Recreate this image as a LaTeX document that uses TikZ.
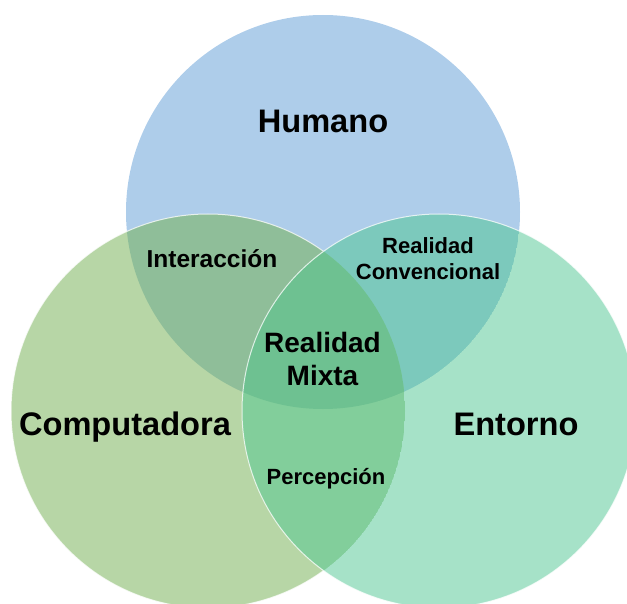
\documentclass[tikz,border=0pt]{standalone}
\usepackage{fontspec}
\setmainfont{Liberation Sans}
\definecolor{cTop}{RGB}{174,205,234}
\definecolor{cLeft}{RGB}{183,214,166}
\definecolor{cRight}{RGB}{166,226,200}
\definecolor{cTL}{RGB}{143,190,153}
\definecolor{cTR}{RGB}{124,201,188}
\definecolor{cLR}{RGB}{130,206,155}
\definecolor{cAll}{RGB}{110,193,145}
\tikzset{
  big/.style={font=\bfseries\fontsize{32.6}{38}\selectfont, anchor=base, inner sep=0pt},
  mid/.style={font=\bfseries\fontsize{28}{32.3}\selectfont, anchor=base, inner sep=0pt, align=center},
  small/.style={font=\bfseries\fontsize{22}{26}\selectfont, anchor=base, inner sep=0pt, align=center},
  rim/.style={draw=white, draw opacity=0.75, line width=1pt}
}
\begin{document}
\begin{tikzpicture}[x=1pt,y=-1pt]
\useasboundingbox (0,0) rectangle (627,604);
\def\R{197pt}
\coordinate (T) at (323,212);
\coordinate (L) at (208,411);
\coordinate (Rc) at (439,411);
% top circle
\fill[cTop] (T) circle[radius=\R];
% left circle
\fill[cLeft] (L) circle[radius=\R];
\begin{scope}
  \clip (T) circle[radius=\R];
  \fill[cTL] (L) circle[radius=\R];
\end{scope}
\draw[rim] (L) circle[radius=\R];
% right circle
\fill[cRight] (Rc) circle[radius=\R];
\begin{scope}
  \clip (Rc) circle[radius=\R];
  \begin{scope}
    \clip (T) circle[radius=\R];
    \fill[cTR] (T) circle[radius=\R];
  \end{scope}
  \begin{scope}
    \clip (L) circle[radius=\R];
    \fill[cLR] (L) circle[radius=\R];
    \clip (T) circle[radius=\R];
    \fill[cAll] (T) circle[radius=\R];
  \end{scope}
\end{scope}
\draw[rim] (Rc) circle[radius=\R];
% labels
\node[big] (hum) at (323,133) {Humano};
\node[big] (comp) at (125,435) {Computadora};
\node[big] (ent) at (516,435) {Entorno};
\node[font=\bfseries\fontsize{24.5}{29}\selectfont, anchor=base, inner sep=0pt] (inter) at (212,267.3) {Interacción};
\node[small] (rconv) at (428,280) {Realidad\\Convencional};
\node[mid] (rmix) at (322.5,385) {Realidad\\Mixta};
\node[font=\bfseries\fontsize{22}{26}\selectfont, anchor=base, inner sep=0pt] (perc) at (326,484) {Percepción};
\end{tikzpicture}
\end{document}
